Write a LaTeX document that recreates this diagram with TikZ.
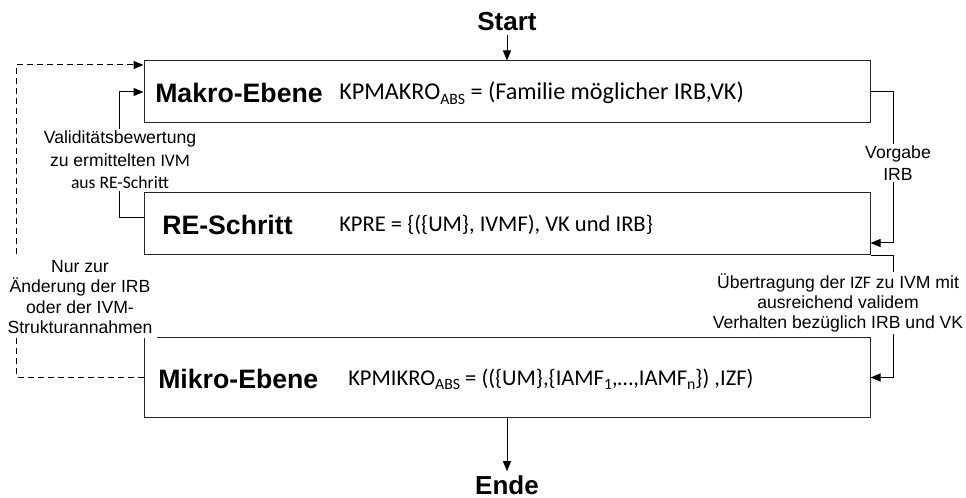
\documentclass[tikz,border=0pt]{standalone}
\usepackage{fontspec}
\setmainfont{Liberation Sans}
\newfontfamily\calibri{Carlito}
\usetikzlibrary{arrows.meta}

% small lowered index inside the Calibri formulas
\newcommand{\lowidx}[1]{\raisebox{-0.35ex}{\fontsize{11.8}{12}\selectfont #1}}

\begin{document}
\begin{tikzpicture}[x=0.75pt,y=-0.75pt,
  level/.style={draw=black!85, line width=0.75pt, minimum width=544.5pt, inner sep=0pt},
  title/.style={anchor=base west, inner sep=0pt, font=\fontsize{20}{24}\selectfont\bfseries},
  formula/.style={anchor=base west, inner sep=0pt, font=\calibri\fontsize{16.9}{20}\selectfont},
  note/.style={fill=white, inner sep=1.5pt, align=center},
  conn/.style={line width=0.75pt, -{Triangle[length=7.5pt,width=6pt]}},
  loopback/.style={conn, dash pattern=on 4.5pt off 3pt},
  endpoint/.style={font=\fontsize{19.5}{23}\selectfont\bfseries, inner sep=3pt}]

\useasboundingbox (0,0) rectangle (966,498);

% the three levels
\node[level, minimum height=46.5pt]  (makro) at (507,92)    {};
\node[level, minimum height=46.5pt]  (re)    at (507,224)   {};
\node[level, minimum height=59.25pt] (mikro) at (507,377.5) {};

\node[title]   (tmakro) at (155,103) {Makro-Ebene};
\node[formula, font=\calibri\fontsize{18.1}{21}\selectfont] (fmakro) at (339,100)
  {KPMAKRO\lowidx{ABS} = (Familie möglicher IRB,VK)};
\node[title]   (tre)    at (162,235) {RE-Schritt};
\node[formula] (fre)    at (339,232) {KPRE = \{(\{UM\}, IVMF), VK und IRB\}};
\node[title]   (tmikro) at (158,388) {Mikro-Ebene};
\node[formula] (fmikro) at (348,386) {KPMIKRO\lowidx{ABS} = ((\{UM\},\{IAMF\lowidx{1},…,IAMF\lowidx{n}\}) ,IZF)};

% start and end
\node[endpoint] (start) at (507,22)  {Start};
\node[endpoint] (ende)  at (507,485) {Ende};
\draw[conn] (start) -- (makro);
\draw[conn] (mikro) -- (ende);

% downward flow on the right
\draw[conn] (makro.east) -- ++(23,0) |- ([yshift=-14.25pt]re.east);
\draw[conn] (re.south east) -- ++(23,0) |- (mikro.east);

% feedback on the left
\draw[conn] ([yshift=4.5pt]re.west) -- ++(-24,0) |- (makro.west);
\draw[loopback] (mikro.west) -- ++(-127,0) |- ([yshift=20.25pt]makro.west);

% connector labels
\node[note, font=\fontsize{13.2}{16.9}\selectfont] (lval) at (120,160)
  {Validitätsbewertung\\zu ermittelten {\calibri IVM}\\{\calibri aus RE-Schritt}};
\node[note, inner sep=3.5pt, font=\fontsize{13.2}{15.2}\selectfont] (lnur) at (80,297)
  {Nur zur\\Änderung der IRB\\oder der IVM-\\Strukturannahmen};
\node[note, font=\fontsize{13.2}{16}\selectfont] (lvor) at (898,163)
  {Vorgabe\\IRB};
\node[note, font=\fontsize{13.2}{15}\selectfont] (lueb) at (838,303)
  {Übertragung der {\calibri IZF} zu IVM mit\\ausreichend validem\\Verhalten bezüglich IRB und VK};
\end{tikzpicture}
\end{document}
